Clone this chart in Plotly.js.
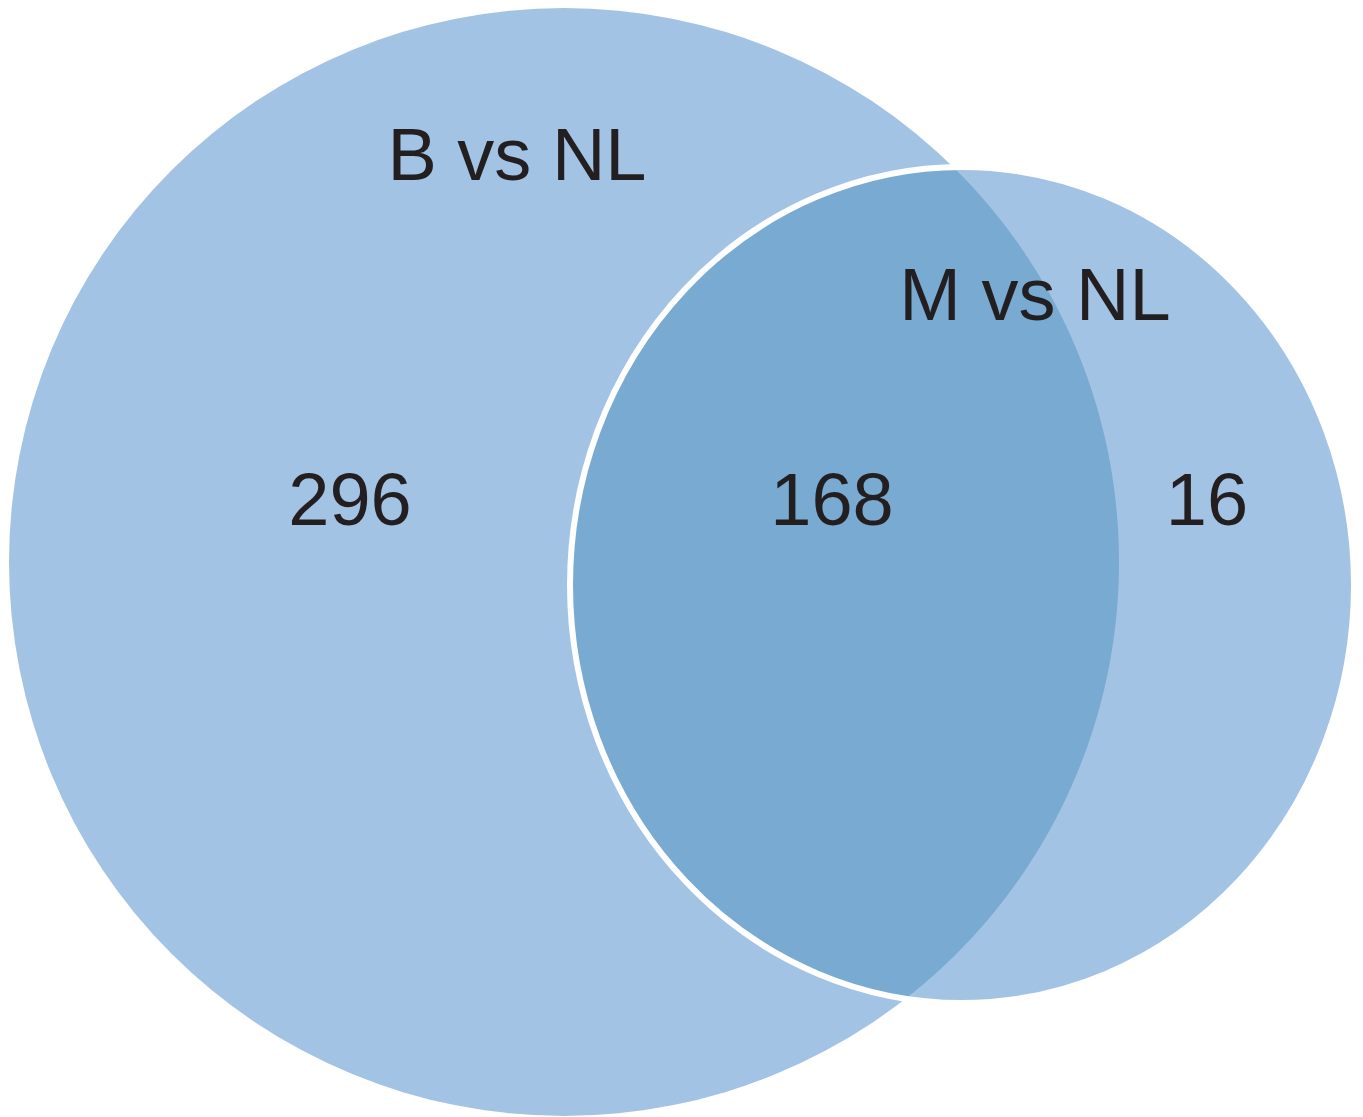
<!DOCTYPE html>
<html>
<head>
<meta charset="utf-8">
<script src="https://cdn.plot.ly/plotly-3.0.1.min.js"></script>
<style>
  html, body { margin: 0; padding: 0; background: #ffffff; }
  #chart { width: 1363px; height: 1117px; }
  #chart path { shape-rendering: geometricPrecision !important; }
</style>
</head>
<body>
<div id="chart"></div>
<script>
// ---- data ----
var setNames = ['B vs NL', 'M vs NL'];
var regionNames = ['B vs NL only', 'Both', 'M vs NL only'];
var regionCounts = [296, 168, 16];

// ---- layout geometry (plot units = pixels) ----
var W = 1363, H = 1117;
var bigCircle = {cx: 564, cy: 562, rx: 555, ry: 554};
var smallCircle = {cx: 962, cy: 585, rx: 392, ry: 418};
var setLabelPos = {x: [517, 1035], y: [161, 301]};
var regionLabelPos = {x: [350, 832, 1207], y: [506, 506, 506]};

var lightBlue = '#a3c3e4';
var darkBlue = '#78aad2';
var textColor = '#231f20';
var fontFamily = '"Liberation Sans", Arial, Helvetica, sans-serif';

function inside(e, x, y) {
  var dx = (x - e.cx) / e.rx, dy = (y - e.cy) / e.ry;
  return dx * dx + dy * dy <= 1;
}
function arcInside(e, other, a0, a1) {
  var pts = [];
  var n = 2000;
  for (var i = 0; i <= n; i++) {
    var t = a0 + (a1 - a0) * i / n;
    var x = e.cx + e.rx * Math.cos(t), y = e.cy + e.ry * Math.sin(t);
    if (inside(other, x, y)) pts.push([x, y]);
  }
  return pts;
}
// lens = part of small ellipse inside big circle + part of big circle inside small ellipse
var p1 = arcInside(smallCircle, bigCircle, 0, 2 * Math.PI);
var p2 = arcInside(bigCircle, smallCircle, -Math.PI, Math.PI);
var lensPts = p1.concat(p2);
var lensPath = lensPts.map(function (p, i) {
  return (i === 0 ? 'M' : 'L') + p[0].toFixed(2) + ',' + p[1].toFixed(2);
}).join(' ') + ' Z';

function ellipseShape(e, fill, line) {
  return {
    type: 'circle', xref: 'x', yref: 'y', layer: 'below',
    x0: e.cx - e.rx, x1: e.cx + e.rx, y0: e.cy - e.ry, y1: e.cy + e.ry,
    fillcolor: fill, line: line
  };
}

var shapes = [
  ellipseShape(bigCircle, lightBlue, {width: 0}),
  ellipseShape(smallCircle, lightBlue, {width: 0}),
  {type: 'path', xref: 'x', yref: 'y', layer: 'below', path: lensPath,
   fillcolor: darkBlue, line: {width: 0}},
  ellipseShape(smallCircle, 'rgba(0,0,0,0)', {color: '#ffffff', width: 6})
];

var traces = [
  {
    type: 'scatter', mode: 'text',
    x: setLabelPos.x, y: setLabelPos.y,
    text: setNames, textposition: 'middle center',
    textfont: {family: fontFamily, size: 74, color: textColor},
    hoverinfo: 'skip', showlegend: false, cliponaxis: false
  },
  {
    type: 'scatter', mode: 'text',
    x: regionLabelPos.x, y: regionLabelPos.y,
    text: regionCounts.map(String), customdata: regionNames,
    textposition: 'middle center',
    textfont: {family: fontFamily, size: 74, color: textColor},
    hoverinfo: 'skip', showlegend: false, cliponaxis: false
  }
];

var layout = {
  width: W, height: H,
  margin: {l: 0, r: 0, t: 0, b: 0, pad: 0},
  paper_bgcolor: '#ffffff', plot_bgcolor: '#ffffff',
  showlegend: false,
  xaxis: {range: [0, W], visible: false, fixedrange: true},
  yaxis: {range: [H, 0], visible: false, fixedrange: true},
  shapes: shapes
};

Plotly.newPlot('chart', traces, layout, {displayModeBar: false, staticPlot: true});
</script>
</body>
</html>
